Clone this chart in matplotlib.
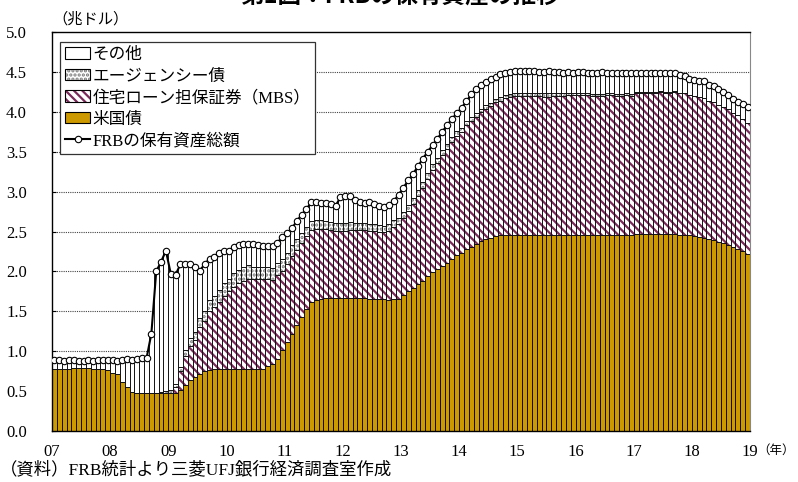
import matplotlib
matplotlib.use("Agg")
import matplotlib.pyplot as plt
import matplotlib.colors as mcolors
from matplotlib.patches import Patch
from matplotlib.lines import Line2D
import numpy as np

plt.rcParams['font.family'] = ['Liberation Serif', 'Noto Sans CJK JP']
plt.rcParams['hatch.linewidth'] = 1.6

# Datos mensuales 2007/01 - 2018/12 (兆ドル)
years = ["07", "08", "09", "10", "11", "12", "13", "14", "15", "16", "17", "18", "19"]

treasury = [
    0.78, 0.78, 0.78, 0.78, 0.79, 0.79, 0.79, 0.79, 0.78, 0.78, 0.78, 0.76,
    0.73, 0.71, 0.62, 0.55, 0.49, 0.48, 0.48, 0.48, 0.48, 0.48, 0.48, 0.48,
    0.48, 0.48, 0.51, 0.58, 0.64, 0.68, 0.71, 0.75, 0.77, 0.78, 0.78, 0.78,
    0.78, 0.78, 0.78, 0.78, 0.78, 0.78, 0.78, 0.78, 0.81, 0.84, 0.90, 1.02,
    1.11, 1.22, 1.33, 1.43, 1.53, 1.62, 1.64, 1.65, 1.67, 1.67, 1.67, 1.67,
    1.67, 1.67, 1.67, 1.67, 1.67, 1.66, 1.66, 1.65, 1.65, 1.64, 1.65, 1.66,
    1.70, 1.75, 1.79, 1.84, 1.88, 1.94, 1.99, 2.03, 2.07, 2.11, 2.16, 2.21,
    2.23, 2.28, 2.31, 2.34, 2.38, 2.40, 2.42, 2.44, 2.45, 2.46, 2.46, 2.46,
    2.46, 2.46, 2.46, 2.46, 2.46, 2.46, 2.46, 2.46, 2.46, 2.46, 2.46, 2.46,
    2.46, 2.46, 2.46, 2.46, 2.46, 2.46, 2.46, 2.46, 2.46, 2.46, 2.46, 2.46,
    2.47, 2.47, 2.47, 2.47, 2.47, 2.47, 2.47, 2.47, 2.47, 2.46, 2.46, 2.45,
    2.44, 2.43, 2.42, 2.41, 2.39, 2.37, 2.35, 2.33, 2.30, 2.28, 2.25, 2.22,
]

mbs = [
    0.00, 0.00, 0.00, 0.00, 0.00, 0.00, 0.00, 0.00, 0.00, 0.00, 0.00, 0.00,
    0.00, 0.00, 0.00, 0.00, 0.00, 0.00, 0.00, 0.00, 0.00, 0.00, 0.00, 0.00,
    0.00, 0.07, 0.24, 0.36, 0.43, 0.46, 0.59, 0.63, 0.74, 0.77, 0.84, 0.91,
    0.97, 1.03, 1.07, 1.10, 1.13, 1.12, 1.12, 1.12, 1.09, 1.05, 1.05, 0.99,
    0.98, 0.97, 0.94, 0.93, 0.91, 0.90, 0.89, 0.88, 0.86, 0.85, 0.84, 0.84,
    0.84, 0.85, 0.85, 0.85, 0.85, 0.85, 0.85, 0.85, 0.84, 0.87, 0.91, 0.93,
    0.97, 1.01, 1.06, 1.11, 1.17, 1.22, 1.28, 1.33, 1.39, 1.43, 1.46, 1.49,
    1.52, 1.56, 1.58, 1.60, 1.62, 1.64, 1.65, 1.68, 1.69, 1.71, 1.72, 1.74,
    1.74, 1.74, 1.74, 1.74, 1.74, 1.73, 1.73, 1.74, 1.74, 1.74, 1.75, 1.75,
    1.75, 1.75, 1.75, 1.74, 1.74, 1.74, 1.75, 1.75, 1.74, 1.74, 1.75, 1.74,
    1.76, 1.77, 1.77, 1.77, 1.77, 1.78, 1.77, 1.77, 1.78, 1.77, 1.77, 1.76,
    1.76, 1.75, 1.75, 1.73, 1.73, 1.72, 1.71, 1.70, 1.69, 1.68, 1.66, 1.64,
]

agency = [
    0.00, 0.00, 0.00, 0.00, 0.00, 0.00, 0.00, 0.00, 0.00, 0.00, 0.00, 0.00,
    0.00, 0.00, 0.00, 0.00, 0.00, 0.00, 0.00, 0.00, 0.00, 0.00, 0.01, 0.02,
    0.03, 0.04, 0.05, 0.07, 0.09, 0.10, 0.11, 0.12, 0.13, 0.14, 0.15, 0.16,
    0.16, 0.17, 0.17, 0.17, 0.17, 0.16, 0.16, 0.16, 0.15, 0.15, 0.15, 0.15,
    0.14, 0.14, 0.13, 0.12, 0.12, 0.11, 0.11, 0.11, 0.10, 0.10, 0.10, 0.10,
    0.10, 0.10, 0.09, 0.09, 0.09, 0.08, 0.08, 0.08, 0.08, 0.08, 0.08, 0.08,
    0.07, 0.07, 0.07, 0.07, 0.07, 0.07, 0.07, 0.06, 0.06, 0.06, 0.06, 0.06,
    0.05, 0.05, 0.05, 0.05, 0.04, 0.04, 0.04, 0.04, 0.04, 0.04, 0.04, 0.04,
    0.04, 0.04, 0.04, 0.04, 0.04, 0.04, 0.04, 0.03, 0.03, 0.03, 0.03, 0.03,
    0.03, 0.02, 0.02, 0.02, 0.02, 0.02, 0.02, 0.02, 0.02, 0.02, 0.02, 0.02,
    0.02, 0.01, 0.01, 0.01, 0.01, 0.01, 0.01, 0.01, 0.01, 0.00, 0.00, 0.00,
    0.00, 0.00, 0.00, 0.00, 0.00, 0.00, 0.00, 0.00, 0.00, 0.00, 0.00, 0.00,
]

total = [
    0.89, 0.89, 0.88, 0.89, 0.89, 0.88, 0.88, 0.89, 0.88, 0.89, 0.89, 0.89,
    0.89, 0.88, 0.89, 0.90, 0.89, 0.90, 0.92, 0.91, 1.22, 2.00, 2.12, 2.26,
    1.97, 1.96, 2.09, 2.09, 2.09, 2.05, 2.01, 2.09, 2.16, 2.18, 2.23, 2.25,
    2.26, 2.30, 2.33, 2.34, 2.34, 2.34, 2.33, 2.32, 2.32, 2.32, 2.36, 2.43,
    2.48, 2.54, 2.63, 2.71, 2.78, 2.87, 2.87, 2.86, 2.86, 2.85, 2.82, 2.93,
    2.94, 2.94, 2.90, 2.87, 2.86, 2.87, 2.85, 2.82, 2.81, 2.83, 2.88, 2.96,
    3.05, 3.14, 3.22, 3.32, 3.41, 3.50, 3.58, 3.66, 3.75, 3.83, 3.91, 3.98,
    4.05, 4.13, 4.22, 4.28, 4.34, 4.37, 4.41, 4.44, 4.47, 4.49, 4.50, 4.51,
    4.51, 4.51, 4.51, 4.51, 4.50, 4.50, 4.51, 4.50, 4.50, 4.49, 4.50, 4.49,
    4.50, 4.50, 4.49, 4.49, 4.49, 4.50, 4.49, 4.49, 4.49, 4.48, 4.49, 4.48,
    4.49, 4.49, 4.48, 4.49, 4.49, 4.49, 4.49, 4.48, 4.48, 4.46, 4.45, 4.41,
    4.40, 4.39, 4.38, 4.34, 4.32, 4.29, 4.25, 4.21, 4.16, 4.12, 4.10, 4.06,
]

GOLD = "#CC9900"
MAROON = "#7A2A5A"
DOTS = "#777777"
MBS_HATCH = "\\\\\\\\"
AG_HATCH = "...."

t = np.array(treasury)
m = np.array(mbs)
a = np.array(agency)
tot = np.array(total)
other = np.clip(tot - t - m - a, 0, None)
x = np.arange(len(t)) + 0.5


def hatch_color(patch, c):
    # el color del rayado sigue al borde; se fija aparte
    patch._hatch_color = mcolors.to_rgba(c)


fig = plt.figure(figsize=(7.98, 4.82), dpi=100)
ax = fig.add_axes([52 / 798, 1 - 431 / 482, 698 / 798, 399 / 482])

# cuadricula punteada
for yv in np.arange(0.5, 5.0, 0.5):
    ax.axhline(yv, color="#444444", lw=0.8, ls=(0, (1, 1)), zorder=0)

kw = dict(width=1.0, edgecolor="black", linewidth=0.6, zorder=2)
ax.bar(x, t, color=GOLD, **kw)
bm = ax.bar(x, m, bottom=t, color="white", hatch=MBS_HATCH, **kw)
for p in bm:
    hatch_color(p, MAROON)
ba = ax.bar(x, a, bottom=t + m, color="white", hatch=AG_HATCH, **kw)
for p in ba:
    hatch_color(p, DOTS)
ax.bar(x, other, bottom=t + m + a, color="white", **kw)

ax.plot(x, tot, color="black", lw=1.5, marker="o", ms=4.6,
        mfc="white", mec="black", mew=0.8, zorder=4)

ax.set_xlim(0, len(t))
ax.set_ylim(0, 5.0)
ax.set_yticks(np.arange(0, 5.01, 0.5))
ax.set_yticklabels(["%.1f" % v for v in np.arange(0, 5.01, 0.5)], fontsize=12)
ax.set_xticks(np.arange(0, len(t) + 1, 12))
ax.set_xticklabels(years, fontsize=12)
ax.tick_params(axis="x", length=0, pad=9)
ax.tick_params(axis="y", direction="in", length=3, pad=18)
ax.spines["right"].set_color("#888888")
for s in ["left", "bottom", "top"]:
    ax.spines[s].set_color("black")
    ax.spines[s].set_linewidth(1.0)

# leyenda
h_other = Patch(facecolor="white", edgecolor="black", lw=0.8)
h_ag = Patch(facecolor="white", edgecolor="black", lw=0.8, hatch=AG_HATCH)
hatch_color(h_ag, DOTS)
h_mbs = Patch(facecolor="white", edgecolor="black", lw=0.8, hatch=MBS_HATCH)
hatch_color(h_mbs, MAROON)
h_t = Patch(facecolor=GOLD, edgecolor="black", lw=0.8)
h_tot = Line2D([], [], color="black", lw=1.5, marker="o", ms=4.6,
               mfc="white", mec="black", mew=0.8)
leg = ax.legend([h_other, h_ag, h_mbs, h_t, h_tot],
                ["その他", "エージェンシー債", "住宅ローン担保証券（MBS）", "米国債",
                 "FRBの保有資産総額"],
                loc="upper left", bbox_to_anchor=(0.0115, 0.975), borderaxespad=0,
                fontsize=12, frameon=True, fancybox=False, framealpha=1,
                edgecolor="#333333", handlelength=1.5, handleheight=0.7,
                handletextpad=0.15, labelspacing=0.33, borderpad=0.3)
leg.get_frame().set_linewidth(0.9)
leg.set_zorder(5)

fig.text(400 / 798, 1 + 4 / 482, "第1図：FRBの保有資産の推移", ha="center", va="center",
         fontsize=17, fontweight="bold", family=["Noto Sans CJK JP"])
fig.text(52 / 798, 1 - 19 / 482, "（兆ドル）", ha="left", va="center", fontsize=11)
fig.text(757 / 798, 1 - 451 / 482, "（年）", ha="left", va="center", fontsize=9)
fig.text(0.0, 1 - 470 / 482, "（資料）FRB統計より三菱UFJ銀行経済調査室作成",
         ha="left", va="center", fontsize=12.5)

fig.savefig("out.png", dpi=100)
